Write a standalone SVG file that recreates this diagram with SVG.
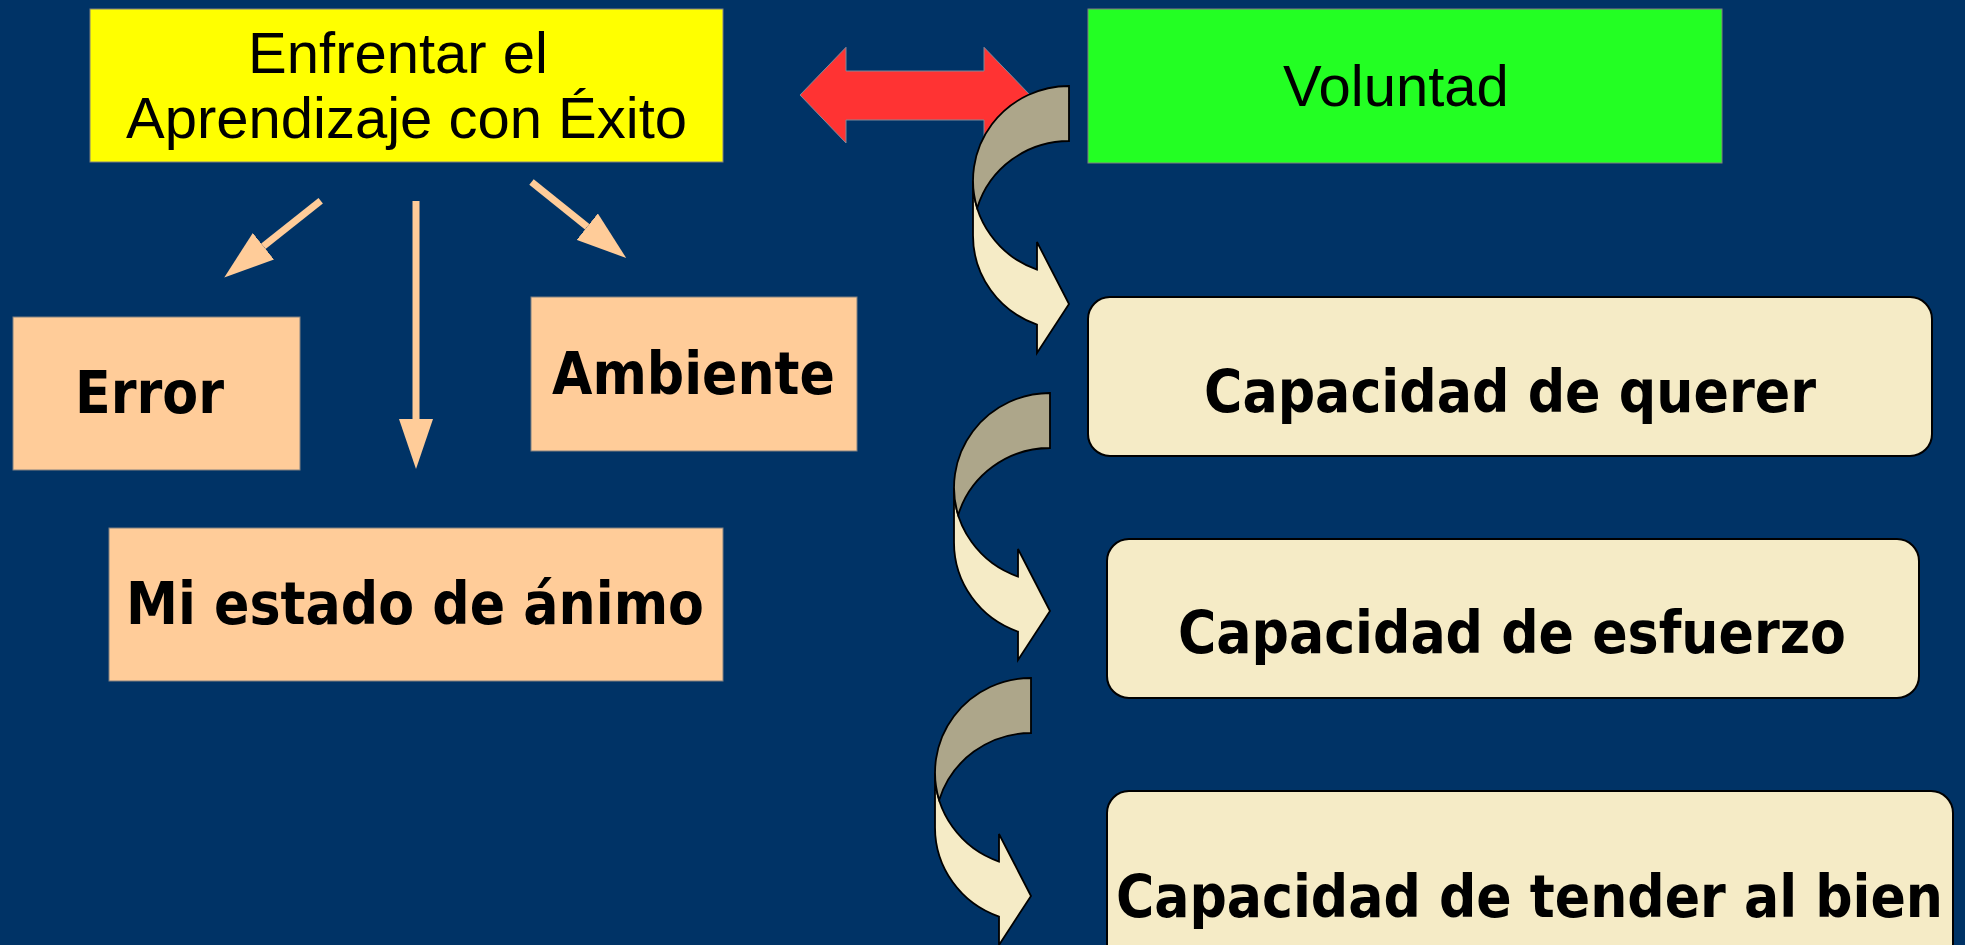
<svg xmlns="http://www.w3.org/2000/svg" xmlns:xlink="http://www.w3.org/1999/xlink" width="1965" height="945" viewBox="0 0 1965 945">
<style>
.box{stroke:#808080;stroke-width:1}
.yellow{fill:#FFFF00}
.green{fill:#23FF23}
.peach{fill:#FFCC99}
.cream{fill:#F5EBC6;stroke:#000;stroke-width:2}
.t1{font-family:"Liberation Sans",Arial,sans-serif;font-size:58px;fill:#000}
.t2{font-family:"DejaVu Sans Condensed","DejaVu Sans",sans-serif;font-weight:bold;font-stretch:condensed;font-size:58px;fill:#000}
.oline{stroke:#FFCC99;stroke-width:7;fill:none;marker-end:url(#ohead)}
.cfront{fill:#F5EBC6;stroke:#000;stroke-width:1.8;stroke-linejoin:miter}
.cback{fill:#ADA68A;stroke:#000;stroke-width:1.8}
</style>
<defs>
<marker id="ohead" markerUnits="userSpaceOnUse" viewBox="0 0 50 34" markerWidth="50" markerHeight="34" refX="0" refY="17" orient="auto">
<path d="M0,0 L50,17 L0,34 Z" fill="#FFCC99"/>
</marker>
<g id="curved">
<path class="cfront" d="M973,180.5 A96 94.5 0 0 0 1037,269.6 L1037,242 L1069,304 L1037,353 L1037,324.6 A96 94.5 0 0 1 973,235.5 Z"/>
<path class="cback" d="M1069,141 A96 94.5 0 0 0 977.2,208 A96 94.5 0 0 1 1069,86 Z"/>
</g>
</defs>
<rect x="0" y="0" width="1965" height="945" fill="#003366"/>

<g id="connectors">
<polygon points="800,95 846,47.3 846,71 984,71 984,47.3 1030,95 984,143 984,120 846,120 846,143" fill="#FF3333" stroke="#7f8a99" stroke-width="1"/>
<line class="oline" x1="320.7" y1="200.7" x2="263.4" y2="246.3"/>
<line class="oline" x1="416" y1="201" x2="416" y2="419"/>
<line class="oline" x1="531.5" y1="182" x2="587.2" y2="226.7"/>
<use xlink:href="#curved"/>
<use xlink:href="#curved" transform="translate(-19,307)"/>
<use xlink:href="#curved" transform="translate(-38,592)"/>
</g>

<g id="n-enfrentar">
<rect class="box yellow" x="90" y="9" width="633" height="153"/>
<text class="t1" x="398" y="73" text-anchor="middle">Enfrentar el</text>
<text class="t1" x="406.5" y="138" text-anchor="middle">Aprendizaje con Éxito</text>
</g>
<g id="n-voluntad">
<rect class="box green" x="1088" y="9" width="634" height="154"/>
<text class="t1" x="1283" y="106">Voluntad</text>
</g>
<g id="n-error">
<rect class="box peach" x="13" y="317" width="287" height="153"/>
<text class="t2" x="75" y="413" textLength="149" lengthAdjust="spacingAndGlyphs">Error</text>
</g>
<g id="n-ambiente">
<rect class="box peach" x="531" y="297" width="326" height="154"/>
<text class="t2" x="552" y="394" textLength="283" lengthAdjust="spacingAndGlyphs">Ambiente</text>
</g>
<g id="n-animo">
<rect class="box peach" x="109" y="528" width="614" height="153"/>
<text class="t2" x="126" y="624" textLength="578" lengthAdjust="spacingAndGlyphs">Mi estado de ánimo</text>
</g>
<g id="n-querer">
<rect class="cream" x="1088" y="297" width="844" height="159" rx="22" ry="22"/>
<text class="t2" x="1204" y="412" textLength="612" lengthAdjust="spacingAndGlyphs">Capacidad de querer</text>
</g>
<g id="n-esfuerzo">
<rect class="cream" x="1107" y="539" width="812" height="159" rx="22" ry="22"/>
<text class="t2" x="1178" y="653" textLength="668" lengthAdjust="spacingAndGlyphs">Capacidad de esfuerzo</text>
</g>
<g id="n-bien">
<rect class="cream" x="1107" y="791" width="846" height="200" rx="22" ry="22"/>
<text class="t2" x="1116" y="917" textLength="827" lengthAdjust="spacingAndGlyphs">Capacidad de tender al bien</text>
</g>
</svg>
